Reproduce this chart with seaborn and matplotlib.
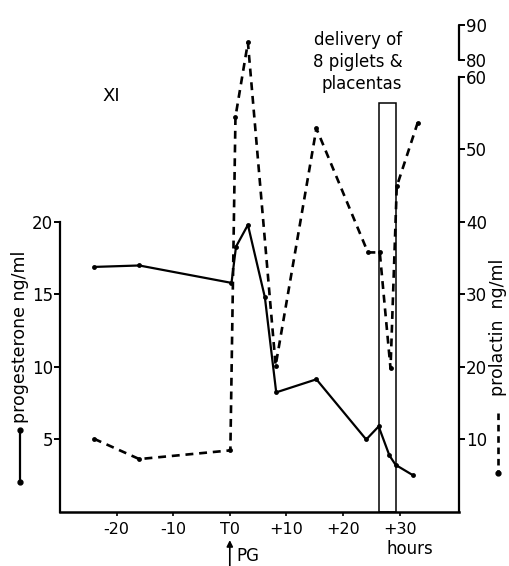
import numpy as np
import seaborn as sns
import matplotlib.pyplot as plt
from matplotlib.patches import Rectangle

sns.set_style("ticks")
plt.rcParams.update({
    "font.family": ["DejaVu Sans"],
    "text.color": "black",
    "axes.labelcolor": "black",
    "axes.edgecolor": "black",
    "xtick.color": "black",
    "ytick.color": "black",
})

# progesterone (solid line, left axis)
prog_hours = [-24, -16, 0.3, 1.1, 3.2, 6.2, 8.2, 15.3, 24.1, 26.3, 28.2, 29.3, 32.3]
progesterone = [16.9, 17.0, 15.8, 18.3, 19.8, 14.8, 8.25, 9.15, 5.0, 5.9, 3.9, 3.25, 2.55]

# prolactin (dashed line, right axis, broken above 60)
prl_hours = [-24, -16, 0.1, 1.0, 3.2, 8.1, 15.3, 24.4, 26.5, 28.4, 29.5, 33.2]
prolactin = [10.1, 7.3, 8.5, 54.5, 85, 20.2, 52.9, 35.8, 35.8, 19.8, 44.9, 53.7]

x_ticks = [-20, -10, 0, 10, 20, 30]
x_labels = ["-20", "-10", "T0", "+10", "+20", "+30"]
prog_ticks = [5, 10, 15, 20]
prl_ticks = [10, 20, 30, 40, 50, 60, 80, 90]
delivery = (26.4, 29.4)

# broken prolactin scale: 60..80 squeezed, 80..90 compressed
brk_in = [-100, 60, 80, 90, 300]
brk_out = [-100, 60, 62.34, 67.17, 67.17 + 210 * 0.483]


def fwd(v):
    return np.interp(v, brk_in, brk_out)


def inv(u):
    return np.interp(u, brk_out, brk_in)


fig = plt.figure(figsize=(5.09, 5.66), dpi=100)
ax = fig.add_axes([0.1179, 0.0954, 0.7839, 0.887])
ax2 = ax.twinx()

sns.lineplot(x=prog_hours, y=progesterone, ax=ax, color="k", lw=1.6,
             marker="o", markersize=3.5, markeredgewidth=0, estimator=None)
sns.lineplot(x=prl_hours, y=prolactin, ax=ax2, color="k", lw=1.9,
             marker="o", markersize=3.5, markeredgewidth=0, estimator=None)
for ln in ax2.get_lines():
    ln.set_dashes((3, 2.2))

ax.set_xlim(-30, 40.5)
ax.set_ylim(0, 34.62)
ax2.set_yscale("function", functions=(fwd, inv))
ax2.set_ylim(0, inv(2 * 34.62))

# delivery window
ax.add_patch(Rectangle((delivery[0], 0), delivery[1] - delivery[0], 28.2,
                       fill=False, ec="k", lw=1.1, zorder=1))

# spines
for s in ["top", "right"]:
    ax.spines[s].set_visible(False)
for s in ["top", "left", "bottom"]:
    ax2.spines[s].set_visible(False)
ax.spines["left"].set_bounds(0, 20)
ax2.spines["right"].set_bounds(0, 60)
ax.spines["left"].set_linewidth(1.6)
ax.spines["bottom"].set_linewidth(1.8)
ax2.spines["right"].set_linewidth(1.6)
ax2.plot([1, 1], [80, 90], transform=ax2.get_yaxis_transform(),
         color="k", lw=1.6, clip_on=False)

ax.set_xticks(x_ticks, x_labels)
ax.set_yticks(prog_ticks)
ax2.set_yticks(prl_ticks, [str(t) for t in prl_ticks])
ax2.yaxis.set_minor_locator(plt.NullLocator())
ax.tick_params(axis="x", length=3, width=1.2, pad=4, labelsize=11.5)
ax.tick_params(axis="y", length=4, width=1.4, pad=1, labelsize=12)
ax2.tick_params(axis="y", length=4, width=1.4, pad=1, labelsize=12)

# axis labels with line-style keys
ax.set_ylabel("progesterone ng/ml", fontsize=12.5, ha="center", va="center")
ax.yaxis.set_label_coords(-0.1, 0.349)
ax.plot([-0.1, -0.1], [0.163, 0.060], transform=ax.transAxes, color="k",
        lw=1.6, marker="o", markersize=3.5, clip_on=False)
ax2.set_ylabel("prolactin  ng/ml", fontsize=12.5, ha="center", va="center")
ax2.yaxis.set_label_coords(1.098, 0.367)
ax.plot([1.098, 1.098], [0.197, 0.082], transform=ax.transAxes,
        color="k", lw=1.9, linestyle=(0, (2.5, 1.8)), clip_on=False)
ax.plot([1.098], [0.078], transform=ax.transAxes, color="k",
        marker="o", markersize=3.5, clip_on=False)

# annotations
ax.text(-21, 28.7, "XI", fontsize=13, ha="center", va="center")
ax.text(30.5, 33.2, "delivery of\n8 piglets &\nplacentas", fontsize=12,
        ha="right", va="top", multialignment="right", linespacing=1.3)
ax.text(31.9, -0.074, "hours", transform=ax.get_xaxis_transform(),
        fontsize=12, ha="center", va="center")
ax.annotate("", xy=(0, -0.056), xycoords=ax.get_xaxis_transform(),
            xytext=(0, -0.11), textcoords=ax.get_xaxis_transform(),
            arrowprops=dict(arrowstyle="-|>", color="k", lw=1.2,
                            mutation_scale=9, shrinkA=0, shrinkB=0),
            annotation_clip=False)
ax.text(1.1, -0.088, "PG", transform=ax.get_xaxis_transform(),
        fontsize=12, ha="left", va="center")

fig.savefig("out.png", dpi=100)
